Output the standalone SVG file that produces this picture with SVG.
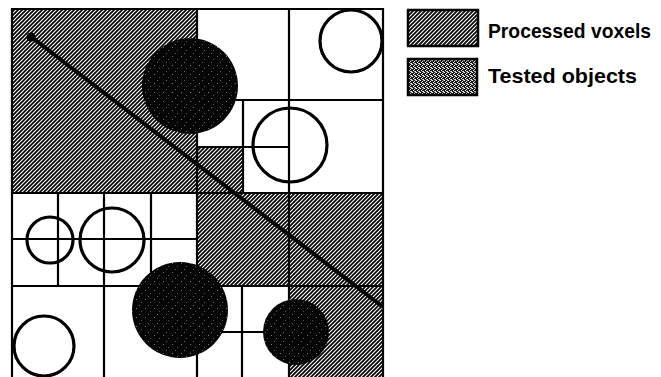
<svg xmlns="http://www.w3.org/2000/svg" width="661" height="377" viewBox="0 0 661 377">
  <defs>
    <pattern id="hatch" patternUnits="userSpaceOnUse" width="4" height="4">
      <rect width="4" height="4" fill="#fff"/>
      <path d="M-1,1 L1,-1 M0,4 L4,0 M3,5 L5,3" stroke="#000" stroke-width="1.7"/>
    </pattern>
    <pattern id="dark" patternUnits="userSpaceOnUse" width="9" height="9">
      <rect width="9" height="9" fill="#050505"/>
      <rect x="1" y="2" width="1" height="1" fill="#777"/>
      <rect x="6" y="5" width="1" height="1" fill="#555"/>
      <rect x="4" y="8" width="1" height="1" fill="#666"/>
    </pattern>
    <pattern id="stipple" patternUnits="userSpaceOnUse" width="4" height="4">
      <rect width="4" height="4" fill="#1a1a1a"/>
      <rect x="0" y="0" width="1" height="1" fill="#fff"/>
      <rect x="2" y="1" width="1" height="1" fill="#ddd"/>
      <rect x="1" y="2" width="1" height="1" fill="#fff"/>
      <rect x="3" y="3" width="1" height="1" fill="#eee"/>
      <rect x="2" y="3" width="1" height="1" fill="#bbb"/>
      <rect x="3" y="0" width="1" height="1" fill="#aaa"/>
    </pattern>
    <style>
      .grid { stroke: #000; stroke-width: 2.2; fill: none; }
      .circ { stroke: #000; stroke-width: 3.2; fill: none; }
      .lbl { font-family: "Liberation Sans", Arial, sans-serif; font-weight: bold; font-size: 20.5px; fill: #000; }
    </style>
  </defs>
  <rect width="661" height="377" fill="#fff"/>

  <g id="processed-voxels" fill="url(#hatch)">
    <rect x="12" y="9" width="185" height="184"/>
    <rect x="197" y="147" width="46" height="46"/>
    <rect x="197" y="193" width="186" height="93"/>
    <rect x="289" y="286" width="94" height="91"/>
  </g>

  <g id="grid" class="grid">
    <path d="M12,377 V9 H383 V377"/>
    <path d="M197,9 V377 M12,193 H383"/>
    <path d="M289,9 V193 M197,100 H383"/>
    <path d="M243,100 V193 M197,147 H289"/>
    <path d="M12,286 H383 M104,193 V377 M58,193 V286 M151,193 V286 M12,239 H197"/>
    <path d="M289,193 V377 M242,286 V377 M197,332 H289"/>
  </g>

  <g id="empty-objects" class="circ">
    <circle cx="351" cy="41" r="31"/>
    <circle cx="290" cy="145" r="37"/>
    <circle cx="50" cy="240" r="23"/>
    <circle cx="112" cy="240" r="32"/>
    <circle cx="44" cy="346" r="30"/>
  </g>

  <g id="tested-objects" fill="url(#dark)">
    <circle cx="190" cy="86" r="48"/>
    <circle cx="180" cy="310" r="48"/>
    <circle cx="296" cy="332" r="33"/>
  </g>

  <g id="ray">
    <line x1="30" y1="36" x2="383" y2="307" stroke="#000" stroke-width="4"/>
    <circle cx="31" cy="37" r="4.5" fill="#000"/>
  </g>

  <g id="legend-processed">
    <rect x="408" y="10" width="70" height="36" fill="url(#hatch)" stroke="#000" stroke-width="2.5"/>
    <text class="lbl" x="488" y="38" textLength="163" lengthAdjust="spacingAndGlyphs">Processed voxels</text>
  </g>
  <g id="legend-tested">
    <rect x="408" y="59" width="69" height="36" fill="url(#stipple)" stroke="#000" stroke-width="2.5"/>
    <text class="lbl" x="488" y="83" textLength="149" lengthAdjust="spacingAndGlyphs">Tested objects</text>
  </g>
</svg>
